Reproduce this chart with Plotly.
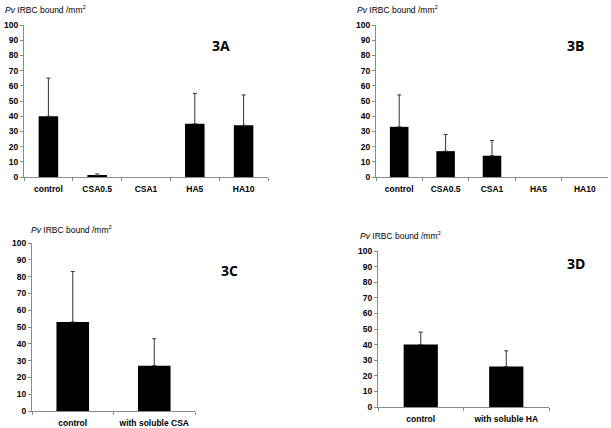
import plotly.graph_objects as go

# Data
cats_a = ["control", "CSA0.5", "CSA1", "HA5", "HA10"]
vals_a = [40, 1, 0, 35, 34]
err_a = [25, 1, 0, 20, 20]

cats_b = ["control", "CSA0.5", "CSA1", "HA5", "HA10"]
vals_b = [33, 17, 14, 0, 0]
err_b = [21, 11, 10, 0, 0]

cats_c = ["control", "with soluble CSA"]
vals_c = [53, 27]
err_c = [30, 16]

cats_d = ["control", "with soluble HA"]
vals_d = [40, 26]
err_d = [8, 10]

y_title = "<i>Pv</i> IRBC bound /mm<sup>2</sup>"
panel_labels = ["3A", "3B", "3C", "3D"]
y_ticks = list(range(0, 101, 10))

W, H = 611, 428

def px(x):
    return x / W

def py(y):
    return 1 - y / H

panels = [
    dict(cats=cats_a, vals=vals_a, err=err_a, x0=24, x1=268, y0=25, y1=177,
         tx=3, ty=10, lx=221, ly=45),
    dict(cats=cats_b, vals=vals_b, err=err_b, x0=376, x1=608, y0=25, y1=177,
         tx=355, ty=10, lx=575, ly=45),
    dict(cats=cats_c, vals=vals_c, err=err_c, x0=32, x1=195, y0=243, y1=411,
         tx=29, ty=229, lx=229, ly=270),
    dict(cats=cats_d, vals=vals_d, err=err_d, x0=378, x1=549, y0=251, y1=407,
         tx=358, ty=235, lx=576, ly=263),
]

fig = go.Figure()
axis_color = "#8a8a8a"
tfont = dict(family="Liberation Sans, Arial, sans-serif", size=8.5, color="black", weight="bold")

for i, p in enumerate(panels):
    n = i + 1
    xa = "x" if n == 1 else f"x{n}"
    ya = "y" if n == 1 else f"y{n}"
    # only draw marks where the picture shows them
    idx = [k for k, v in enumerate(p["vals"]) if v > 0]
    fig.add_trace(go.Bar(
        x=[p["cats"][k] for k in idx], y=[p["vals"][k] for k in idx],
        xaxis=xa, yaxis=ya,
        marker=dict(color="black", line=dict(width=0)),
        width=0.4,
        error_y=dict(type="data", array=[p["err"][k] for k in idx], symmetric=False,
                     arrayminus=[0] * len(idx),
                     color="#333333", thickness=1, width=2),
        showlegend=False, hoverinfo="skip",
    ))
    xkey = "xaxis" if n == 1 else f"xaxis{n}"
    ykey = "yaxis" if n == 1 else f"yaxis{n}"
    fig.update_layout(**{
        xkey: dict(domain=[px(p["x0"]), px(p["x1"])], anchor=ya,
                   type="category", categoryorder="array", categoryarray=p["cats"],
                   range=[-0.5, len(p["cats"]) - 0.5],
                   showline=True, linecolor=axis_color, linewidth=1,
                   ticks="outside", tickson="boundaries", ticklen=3,
                   tickcolor=axis_color, showgrid=False, zeroline=False,
                   tickangle=0, tickfont=tfont, ticklabelstandoff=4,
                   automargin=False, fixedrange=True),
        ykey: dict(domain=[py(p["y1"]), py(p["y0"])], anchor=xa,
                   range=[0, 100], tickvals=y_ticks,
                   showline=True, linecolor=axis_color, linewidth=1,
                   ticks="outside", ticklen=3, tickcolor=axis_color,
                   showgrid=False, zeroline=False, tickfont=tfont,
                   automargin=False, fixedrange=True),
    })
    fig.add_annotation(text=y_title, xref="paper", yref="paper",
                       x=px(p["tx"]), y=py(p["ty"]), xanchor="left", yanchor="middle",
                       showarrow=False,
                       font=dict(family="Liberation Sans, Arial, sans-serif", size=8.5, color="black"))
    fig.add_annotation(text="<b>" + panel_labels[i] + "</b>", xref="paper", yref="paper",
                       x=px(p["lx"]), y=py(p["ly"]), xanchor="center", yanchor="middle",
                       showarrow=False,
                       font=dict(family="Open Sans, Liberation Sans, sans-serif", size=14, color="black"))

fig.update_layout(width=W, height=H, margin=dict(l=0, r=0, t=0, b=0, autoexpand=False),
                  paper_bgcolor="white", plot_bgcolor="white")

fig.write_html("out.html", config={"displayModeBar": False},
               post_script="document.body.style.margin='0px';")
